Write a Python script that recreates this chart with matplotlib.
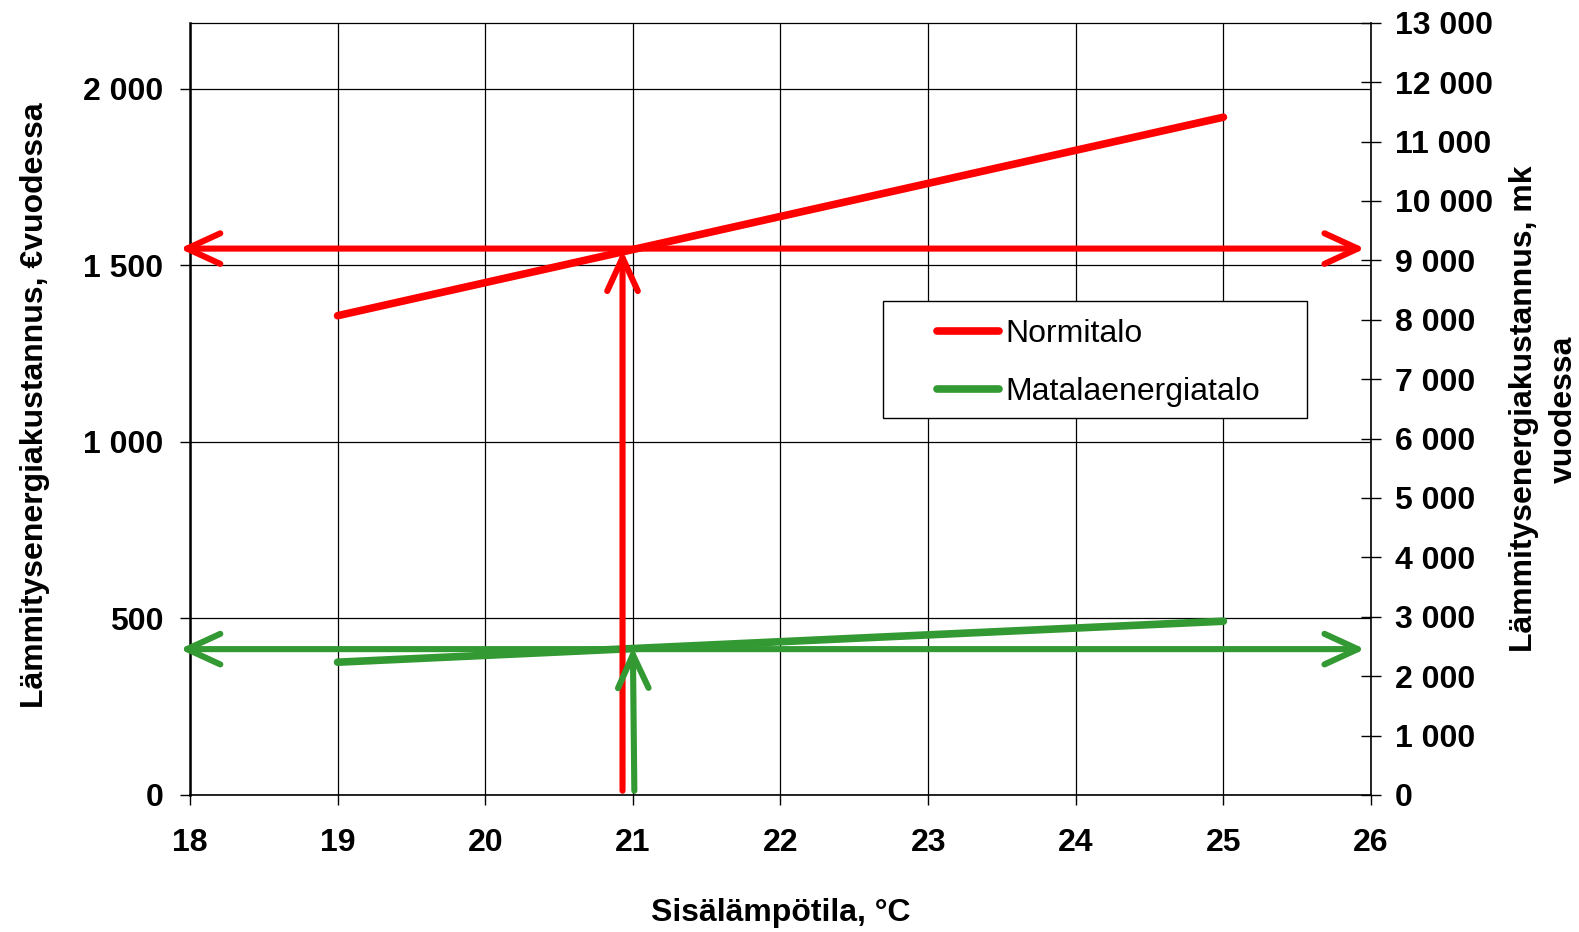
import matplotlib
matplotlib.use("Agg")
import matplotlib.pyplot as plt
from matplotlib.patches import FancyArrowPatch, Rectangle
from matplotlib.ticker import FuncFormatter

plt.rcParams['font.family'] = ['Liberation Sans', 'DejaVu Sans']
plt.rcParams['font.size'] = 23

# lämpötilat ja vuosikustannukset (€)
lampotilat = [19, 25]
normitalo = [1357, 1919]
matalaenergiatalo = [376, 492]

# lukemat 21 asteessa (€)
lukema_lampotila = 21
lukema_normi = 1547
lukema_matala = 413

MK_PER_EURO = 5.94573
x_ticks = list(range(18, 27))
y_ticks = [0, 500, 1000, 1500, 2000]
mk_ticks = list(range(0, 13001, 1000))

punainen = '#ff0000'
vihrea = '#339933'

def tuhannet(v, pos):
    return f"{int(round(v)):,}".replace(",", " ")

fig = plt.figure(figsize=(15.79, 9.32), dpi=100)
ax = fig.add_axes([0.1203, 0.1470, 0.7480, 0.8286])
ax.set_xlim(18, 26)
ax.set_ylim(0, 13000 / MK_PER_EURO)
ax.set_xticks(x_ticks)
ax.set_yticks(y_ticks)
ax.yaxis.set_major_formatter(FuncFormatter(tuhannet))
ax.grid(True, color='black', linewidth=0.9)
ax.set_axisbelow(True)
for lbl in ax.get_xticklabels() + ax.get_yticklabels():
    lbl.set_fontweight('bold')
ax.tick_params(axis='y', direction='out', length=7, width=1, pad=12)
ax.tick_params(axis='x', direction='out', length=7, width=1, pad=16.5)
ax.spines['left'].set_linewidth(1.8)
ax.spines['bottom'].set_linewidth(1.2)
ax.spines['top'].set_linewidth(0.9)
ax.spines['right'].set_linewidth(1.2)

ax2 = ax.twinx()
ax2.set_ylim(0, 13000)
ax2.set_yticks(mk_ticks)
ax2.yaxis.set_major_formatter(FuncFormatter(tuhannet))
ax2.tick_params(axis='y', direction='inout', length=14, width=1, pad=10)
for lbl in ax2.get_yticklabels():
    lbl.set_fontweight('bold')
for s in ax2.spines.values():
    s.set_visible(False)

ax.plot(lampotilat, normitalo, color=punainen, linewidth=5.5,
        solid_capstyle='round', label='Normitalo', zorder=3)
ax.plot(lampotilat, matalaenergiatalo, color=vihrea, linewidth=5.5,
        solid_capstyle='round', label='Matalaenergiatalo', zorder=3)

def nuoli(alku, loppu, vari, tyyli):
    a = FancyArrowPatch(alku, loppu, arrowstyle=tyyli + ',head_length=24,head_width=11',
                        mutation_scale=1, color=vari, linewidth=4.4,
                        capstyle='round', joinstyle='round', clip_on=False, zorder=4,
                        shrinkA=0, shrinkB=0)
    ax.add_patch(a)

# vaakasuorat lukemanuolet
nuoli((17.93, lukema_normi), (25.96, lukema_normi), punainen, '<->')
nuoli((17.93, lukema_matala), (25.96, lukema_matala), vihrea, '<->')
# pystysuorat nuolet 21 asteesta
nuoli((lukema_lampotila - 0.07, 12), (lukema_lampotila - 0.07, lukema_normi - 5), punainen, '->')
nuoli((lukema_lampotila + 0.01, 12), (lukema_lampotila, lukema_matala + 5), vihrea, '->')

ax.set_xlabel('Sisälämpötila, °C', fontweight='bold')
ax.xaxis.label.set_va('center')
ax.xaxis.set_label_coords(0.5, -0.153)

ax.set_ylabel('Lämmitysenergiakustannus, €vuodessa', fontweight='bold')
ax.yaxis.label.set_rotation_mode('anchor')
ax.yaxis.label.set_va('center')
ax.yaxis.label.set_ha('center')
ax.yaxis.set_label_coords(-0.131, 0.505)

ax2.set_ylabel('Lämmitysenergiakustannus, mk\nvuodessa', fontweight='bold',
               rotation=90, linespacing=1.4)
ax2.yaxis.label.set_rotation_mode('anchor')
ax2.yaxis.label.set_va('center')
ax2.yaxis.label.set_ha('center')
ax2.yaxis.set_label_coords(1.1465, 0.5)

# selitelaatikko
ax.add_patch(Rectangle((0.5866, 0.488), 0.3592, 0.1515, transform=ax.transAxes,
                       facecolor='white', edgecolor='black', linewidth=1.0, zorder=5))
leg = ax.legend(loc='upper left', bbox_to_anchor=(0.6325, 0.6165), frameon=False,
                borderpad=0, borderaxespad=0, handlelength=1.95, handletextpad=0.2,
                labelspacing=0.89, fontsize=23)
leg.set_zorder(6)
for h in leg.get_lines():
    h.set_solid_capstyle('round')
    h.set_linewidth(5.5)

fig.savefig('out.png', dpi=100)
